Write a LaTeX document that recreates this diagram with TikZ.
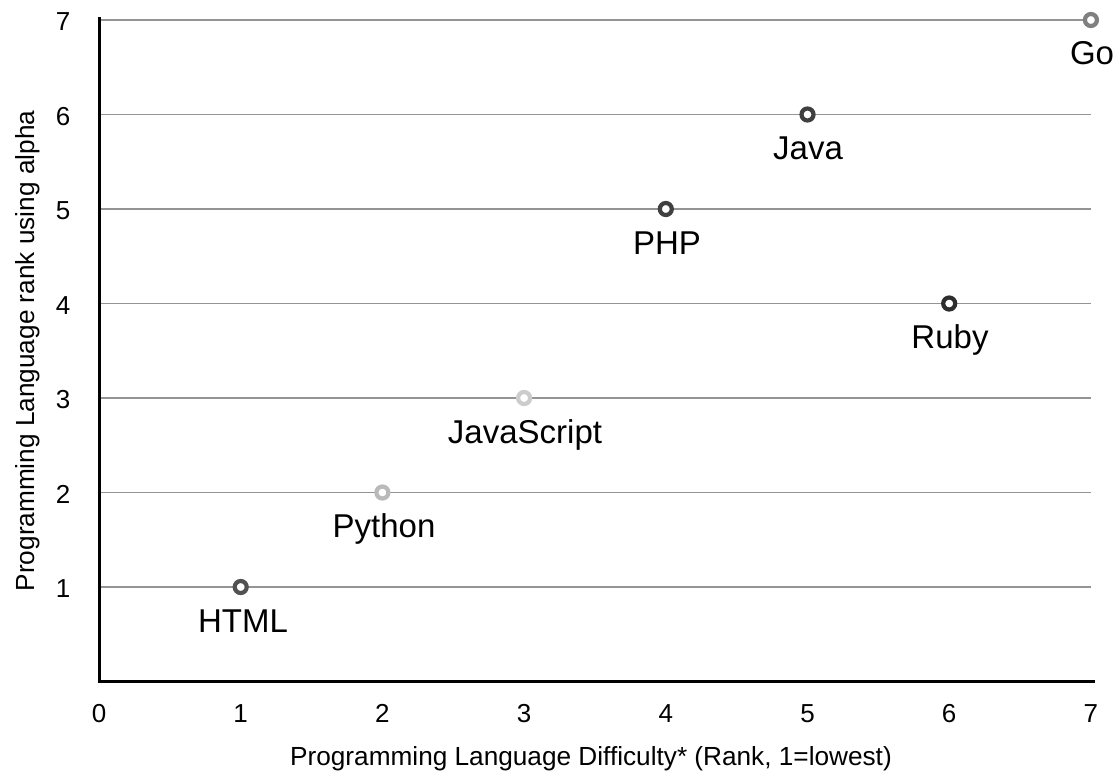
\documentclass[tikz,border=0pt]{standalone}
\usepackage{fontspec}
\setmainfont{Liberation Sans}
\begin{document}
\begin{tikzpicture}[x=1pt,y=-1pt,
  grid/.style={draw=black!42,line width=1.8pt},
  axis/.style={draw=black,line width=3pt},
  pt/.style={circle,line width=4.2pt,minimum size=12pt,inner sep=0pt,fill=white},
  lbl/.style={font=\fontsize{33}{38}\selectfont,anchor=base},
  tick/.style={font=\fontsize{26}{30}\selectfont,anchor=base},
  title/.style={font=\fontsize{26.2}{30}\selectfont,anchor=base}]
\useasboundingbox (0,0) rectangle (1118,774);
% gridlines
\foreach \k in {1,...,7}{
  \draw[grid] (99,{681.5-94.5*\k}) -- (1091,{681.5-94.5*\k});
  \node[tick] (yl\k) at (63,{681.5-94.5*\k+10.5}) {\k};
}
\foreach \k in {0,...,7}{
  \node[tick] (xl\k) at ({99+141.7*\k},722) {\k};
}
% axes
\coordinate (orig) at (99,681.5);
\coordinate (ytop) at (99,18);
\coordinate (xend) at (1093,681.5);
\draw[axis,line cap=rect] (ytop) -- (orig) -- (xend);
% points
\node[pt,draw=black!68] (p1) at (240.7,587) {};
\node[pt,draw=black!27] (p2) at (382.4,492.5) {};
\node[pt,draw=black!20] (p3) at (524.1,398) {};
\node[pt,draw=black!75] (p4) at (665.8,209) {};
\node[pt,draw=black!75] (p5) at (807.5,114.5) {};
\node[pt,draw=black!82] (p6) at (949.2,303.5) {};
\node[pt,draw=black!50] (p7) at (1090.9,20) {};
% labels
\node[lbl] (l1) at (243,632) {HTML};
\node[lbl] (l2) at (384,537.5) {Python};
\node[lbl] (l3) at (525,443) {JavaScript};
\node[lbl] (l4) at (667,254) {PHP};
\node[lbl] (l5) at (808,159.5) {Java};
\node[lbl] (l6) at (950,348.5) {Ruby};
\node[lbl] (l7) at (1092,64) {Go};
% titles
\node[title] (xt) at (591,765) {Programming Language Difficulty* (Rank, 1=lowest)};
\node[title,rotate=90] (yt) at (34,351) {Programming Language rank using alpha};
\end{tikzpicture}
\end{document}
